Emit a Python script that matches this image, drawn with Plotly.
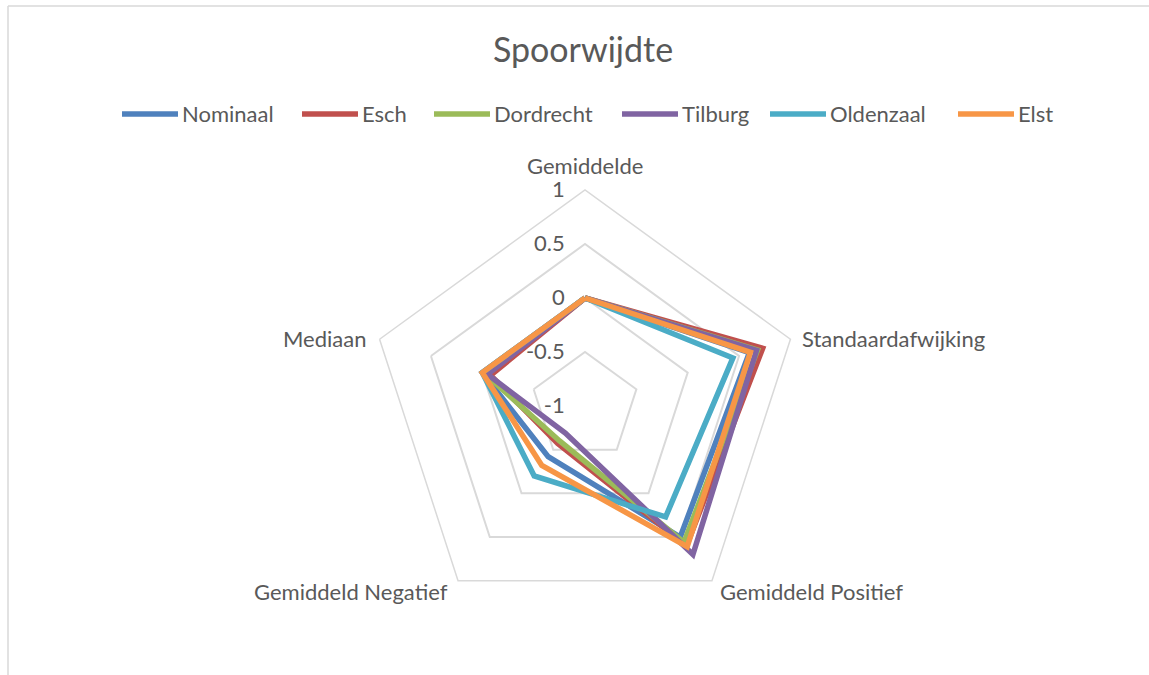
import plotly.graph_objects as go

# Radar chart "Spoorwijdte" (track gauge statistics per location)
categories = ["Gemiddelde", "Standaardafwijking", "Gemiddeld Positief",
              "Gemiddeld Negatief", "Mediaan"]

nominaal = [0, 0.60, 0.50, -0.42, 0.0]
esch = [0, 0.73, 0.60, -0.57, -0.08]
dordrecht = [0, 0.68, 0.56, -0.60, -0.02]
tilburg = [0, 0.67, 0.70, -0.69, -0.05]
oldenzaal = [0, 0.44, 0.27, -0.20, 0.0]
elst = [0, 0.61, 0.61, -0.32, 0.0]

names = ["Nominaal", "Esch", "Dordrecht", "Tilburg", "Oldenzaal", "Elst"]
colors = ["#4F81BD", "#C0504D", "#9BBB59", "#8064A2", "#4BACC6", "#F79646"]
values = [nominaal, esch, dordrecht, tilburg, oldenzaal, elst]

radial_ticks = [-1, -0.5, 0, 0.5, 1]

fig = go.Figure()
for name, vals, color in zip(names, values, colors):
    # close the polygon
    fig.add_trace(go.Scatterpolar(
        r=vals + vals[:1],
        theta=categories + categories[:1],
        mode="lines",
        name=name,
        line=dict(color=color, width=5.5),
        showlegend=False,
    ))

text_color = "#595959"
grid_color = "#D9D9D9"

W, H = 1149, 675


def px(x, y):
    # pixel position in the figure -> paper fraction
    return x / W, 1 - y / H


shapes = [
    # chart area border (only top and left are inside the picture)
    dict(type="line", xref="paper", yref="paper", x0=8 / W, x1=1.1, y0=1 - 6 / H, y1=1 - 6 / H,
         line=dict(color=grid_color, width=1.5)),
    dict(type="line", xref="paper", yref="paper", x0=8 / W, x1=8 / W, y0=-0.1, y1=1 - 6 / H,
         line=dict(color=grid_color, width=1.5)),
]
annotations = []

# Excel-like legend: long line samples, one row
legend_starts = [122, 302, 434, 622, 770, 958]
legend_y = 114
for name, color, x0 in zip(names, colors, legend_starts):
    xa, ya = px(x0, legend_y)
    xb, _ = px(x0 + 56, legend_y)
    shapes.append(dict(type="line", xref="paper", yref="paper", x0=xa, x1=xb, y0=ya, y1=ya,
                       line=dict(color=color, width=5.5)))
    xt, _ = px(x0 + 58, legend_y)
    annotations.append(dict(text=name, x=xt, y=ya, xref="paper", yref="paper",
                            xanchor="left", yanchor="middle", showarrow=False,
                            font=dict(size=22, color=text_color)))

# category labels around the pentagon
cat_pos = [(585, 165, "center"), (800, 338, "left"), (718, 591, "left"),
           (450, 591, "right"), (368, 338, "right")]
for cat, (x, y, anchor) in zip(categories, cat_pos):
    xa, ya = px(x, y)
    annotations.append(dict(text=cat, x=xa, y=ya, xref="paper", yref="paper",
                            xanchor=anchor, yanchor="middle", showarrow=False,
                            font=dict(size=22, color=text_color)))

fig.update_layout(
    width=W,
    height=H,
    margin=dict(l=0, r=0, t=0, b=0),
    paper_bgcolor="white",
    font=dict(family="Lato", size=22, color=text_color),
    title=dict(text="Spoorwijdte", x=583 / W, xanchor="center", y=1 - 50 / H, yanchor="middle",
               font=dict(size=34, color=text_color)),
    showlegend=False,
    polar=dict(
        domain=dict(x=[369 / W, 801 / W], y=[53 / H, 485 / H]),
        gridshape="linear",
        bgcolor="white",
        radialaxis=dict(
            range=[-1, 1],
            tickvals=radial_ticks,
            ticktext=[str(t) for t in radial_ticks],
            angle=90,
            tickangle=90,
            side="counterclockwise",
            showline=False,
            gridcolor=grid_color,
            gridwidth=1.5,
            ticks="outside",
            ticklen=12,
            tickcolor="rgba(0,0,0,0)",
            tickfont=dict(size=22, color=text_color),
        ),
        angularaxis=dict(
            direction="clockwise",
            rotation=90,
            showgrid=False,
            showline=True,
            linecolor=grid_color,
            linewidth=1.5,
            ticks="",
            showticklabels=False,
        ),
    ),
    shapes=shapes,
    annotations=annotations,
)

fig.write_html("out.html", config={"displayModeBar": False},
               post_script="document.body.style.margin='0';")
